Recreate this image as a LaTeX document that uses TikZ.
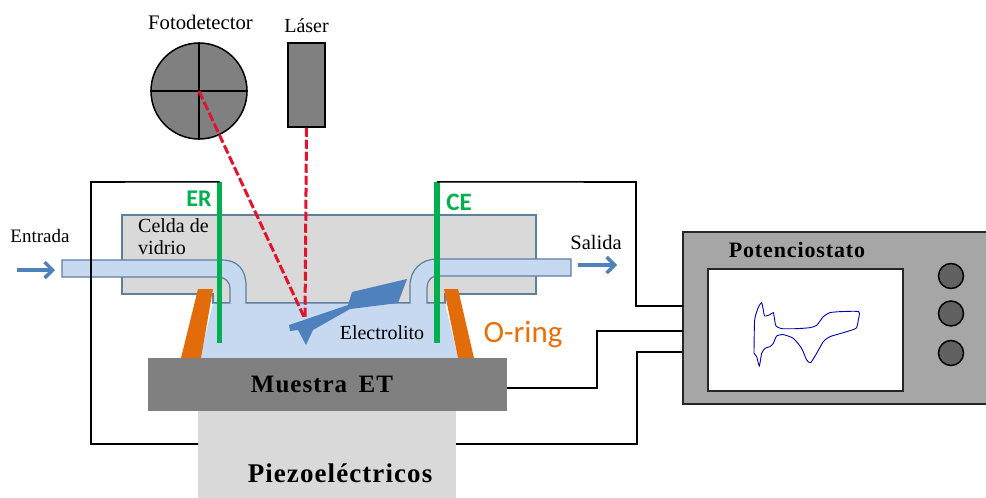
\documentclass[tikz,border=0pt]{standalone}
\usepackage{fontspec}
\setmainfont{Liberation Serif}
\newfontfamily\rotulo{Carlito}
\newfontfamily\espaciada[LetterSpace=4]{Liberation Serif}
\usepackage{tikz}
\usetikzlibrary{arrows,arrows.meta,shapes}
\usetikzlibrary{positioning}
\definecolor{vidrio}{HTML}{D9D9D9}
\definecolor{borde}{HTML}{5F7F9F}
\definecolor{liquido}{HTML}{C6D9F1}
\definecolor{sonda}{HTML}{4F81BD}
\definecolor{verde}{HTML}{00B050}
\definecolor{naranja}{HTML}{E36C0A}
\definecolor{rojo}{HTML}{E0142D}
\tikzset{
  gris/.style={fill=black!50,draw=black,line width=1.5pt,inner sep=0pt},
  bloque/.style={inner sep=0pt,minimum width=#1},
  cable/.style={draw,black,line width=1.6pt},
  rayo/.style={draw,rojo,line width=3pt,dash pattern=on 9pt off 3pt},
  electrodo/.style={fill=verde,inner sep=0pt,minimum width=5.5pt,minimum height=161pt},
  flecha/.style={-{Straight Barb[length=8pt,width=16pt]},sonda,line width=3.4pt},
  boton/.style={circle,fill=black!62,draw=black,line width=1.5pt,inner sep=0pt,minimum size=25pt},
  txt/.style={font=\fontsize{20}{23}\selectfont,inner sep=0pt},
  negrita/.style={font=\espaciada\bfseries\fontsize{#1}{28}\selectfont,inner sep=0pt}
}
\begin{document}
\begin{tikzpicture}[x=1pt,y=-1pt,>=latex',node distance=8pt]
\useasboundingbox (0,0) rectangle (986,498);
\fill[white] (0,0) rectangle (986,498);
% cables, puntos de paso
\coordinate (pin1) at (683,306);
\coordinate (pin2) at (683,331);
\coordinate (pin3) at (683,352);
\coordinate (b1) at (636,182);
\coordinate (b2) at (91,182);
\coordinate (b3) at (91,444);
\coordinate (b4) at (597,388);
\coordinate (b5) at (637,444);
\coordinate (b6) at (198,444);
\coordinate (b7) at (456,444);
% celda
\path[fill=vidrio,draw=borde,line width=1.2pt] (122,215) -- (536,215) -- (536,294) -- (445,294) -- (445,303)
  -- (213,303) -- (213,294) -- (122,294) -- cycle;
\path[fill=liquido] (213,303) -- (445,303) -- (458,358) -- (200,358) -- cycle;
\path[fill=liquido] (62,260) -- (222,260) .. controls (238,260) and (246,270) .. (246,286) -- (246,303)
  -- (230,303) -- (230,288) .. controls (230,282) and (225,277) .. (218,277) -- (62,277) -- cycle;
\path[fill=liquido] (571,259) -- (437,259) .. controls (421,259) and (410,270) .. (410,286) -- (410,303)
  -- (427,303) -- (427,288) .. controls (427,281) and (431,276) .. (437,276) -- (571,276) -- cycle;
\path[draw=borde,line width=1.2pt] (222,260) -- (62,260) -- (62,277) -- (218,277) .. controls (225,277) and (230,282) .. (230,288)
  -- (230,303) -- (213,303);
\path[draw=borde,line width=1.2pt] (222,260) .. controls (238,260) and (246,270) .. (246,286) -- (246,303) -- (410,303)
  -- (410,286) .. controls (410,270) and (421,259) .. (437,259) -- (571,259) -- (571,276) -- (437,276)
  .. controls (431,276) and (427,281) .. (427,288) -- (427,303) -- (445,303);
% o-ring
\path[fill=naranja] (198,289) -- (213,289) -- (201,358) -- (181,358) -- cycle;
\path[fill=naranja] (444,289) -- (458,289) -- (474,358) -- (458,358) -- cycle;
% bloques
\path node[bloque=359pt,minimum height=53pt,fill=black!50] (muestra) at (327.5,384.5) {};
\path node[negrita=25] (tm) at (322,384) {Muestra\, ET};
\path node[bloque=258pt,minimum height=87pt,fill=vidrio] (piezo) at (327,454.5) {};
\path node[negrita=27] (tp) at (340,473) {Piezoeléctricos};
% electrodos
\path node[electrodo] (er) at (219.5,262.5) {};
\path node[electrodo] (ce) at (437,262.5) {};
\path node[font=\rotulo\bfseries\fontsize{24}{26}\selectfont,verde,inner sep=0pt] (ter) at (199,199) {ER};
\path node[font=\rotulo\bfseries\fontsize{25}{26}\selectfont,verde,inner sep=0pt] (tce) at (459,202) {CE};
% sonda
\path[fill=sonda] (289,325) -- (348,305) -- (352,292) -- (407,279) -- (398,303) -- (350,309) -- (313,330)
  -- (306,345) -- (298,330) -- (290,331) -- cycle;
% potenciostato
\path node[bloque=310pt,minimum height=172pt,fill=black!35,draw=black!85,line width=1.6pt] (pot) at (838,318) {};
\path node[bloque=195pt,minimum height=122pt,fill=white,draw=black!85,line width=1.4pt] (pantalla) at (805.5,330) {};
\path node[negrita=22] (tpot) at (797,250) {Potenciostato};
\path node[boton] (b-a) at (951,276) {};
\path node[boton,below=11pt of b-a] (b-b) {};
\path node[boton,below=13pt of b-b] (b-c) {};
\begin{scope}[shift={(670,220)},x=0.3333pt,y=-0.3333pt]
\draw[blue!70!black,line width=0.9pt] plot[smooth,tension=0.35] coordinates {(252,400) (254,300) (265,262) (275,248) (280,270) (284,288) (300,284) (310,278) (314,300) (318,318) (335,326) (380,326) (420,323) (440,316) (460,290) (480,278) (510,275) (566,275) (565,300) (558,325) (520,338) (480,350) (460,365) (440,400) (422,428) (410,420) (395,385) (370,355) (340,344) (320,348) (310,370) (300,380) (285,385) (275,400) (268,438) (260,410) (252,400)};
\end{scope}
% cables
\path[cable] (er.north) -- (b2) -- (b3) -- (b6);
\path[cable] (ce.north) -- (b1) |- (pin1);
\path[cable] (muestra.east |- b4) -- (b4) |- (pin2);
\path[cable] (b7) -- (b5) |- (pin3);
% fotodetector y laser
\path node[circle,gris,minimum size=96pt] (det) at (199,91) {};
\path[draw,line width=1.5pt] (det.north) -- (det.south);
\path[draw,line width=1.5pt] (det.west) -- (det.east);
\path node[rectangle,gris,minimum width=37pt,minimum height=84pt] (laser) at (306.5,85) {};
\path node[txt,font=\fontsize{20.7}{23}\selectfont,above=12pt of det,xshift=1.5pt] (tdet) {Fotodetector};
\path node[txt,above=9pt of laser] (tlas) {Láser};
\coordinate (punta) at (305,319);
\path[rayo] (det.center) -- (punta);
\path[rayo] (laser.south) -- (punta);
% textos
\path node[txt,font=\fontsize{19}{22}\selectfont] (ten) at (40,236) {Entrada};
\path node[txt,font=\fontsize{20.5}{23}\selectfont] (tsa) at (596,242) {Salida};
\path node[txt,align=left,anchor=north west,font=\fontsize{20}{22.5}\selectfont] (tcel) at (138,218) {Celda de\\vidrio};
\path node[txt] (tel) at (382,333) {Electrolito};
\path node[font=\rotulo\fontsize{31}{32}\selectfont,color=naranja!80!orange,inner sep=0pt] (tor) at (523,334) {O-ring};
% flechas
\coordinate (e1) at (17,270);
\coordinate (e2) at (55,270);
\coordinate (s1) at (578,265);
\coordinate (s2) at (617,265);
\path[flecha,draw] (e1) -- (e2);
\path[flecha,draw] (s1) -- (s2);
\end{tikzpicture}
\end{document}
